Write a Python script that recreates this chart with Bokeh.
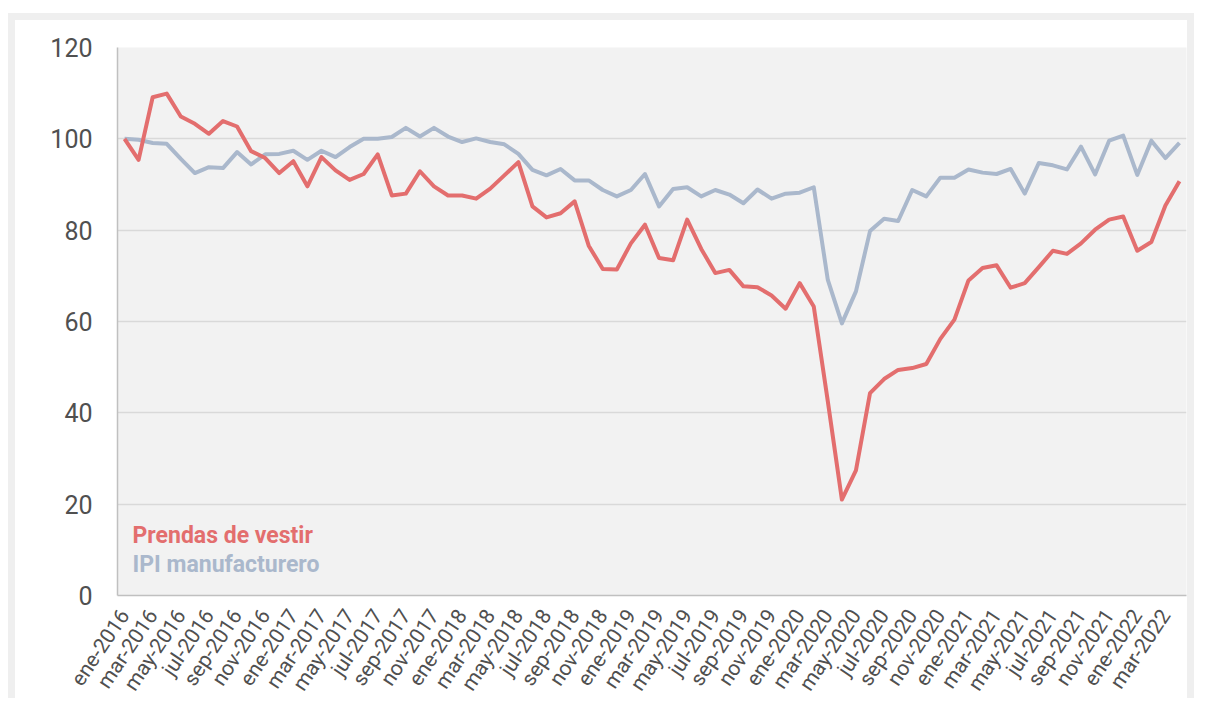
from bokeh.plotting import figure
from bokeh.models import Range1d, FixedTicker, Label
from bokeh.embed import file_html
from bokeh.resources import INLINE

meses = ["ene", "feb", "mar", "abr", "may", "jun", "jul", "ago", "sep", "oct", "nov", "dic"]
anios = [2016, 2017, 2018, 2019, 2020, 2021, 2022]
fechas = [f"{m}-{a}" for a in anios for m in meses][:76]

prendas = [100.0, 95.4, 109.1, 109.9, 104.9, 103.3, 101.1, 103.9, 102.7, 97.3,
           95.8, 92.5, 95.1, 89.6, 96.0, 93.1, 91.0, 92.3, 96.6, 87.6,
           88.0, 92.9, 89.6, 87.6, 87.6, 86.9, 89.1, 92.0, 94.9, 85.2,
           82.8, 83.7, 86.3, 76.6, 71.5, 71.4, 77.1, 81.2, 73.9, 73.4,
           82.3, 75.9, 70.6, 71.3, 67.7, 67.5, 65.7, 62.8, 68.4, 63.3,
           42.5, 21.0, 27.4, 44.3, 47.4, 49.4, 49.8, 50.7, 56.2, 60.4,
           69.0, 71.7, 72.3, 67.4, 68.4, 71.9, 75.5, 74.8, 77.1, 80.1,
           82.3, 83.0, 75.5, 77.4, 85.4, 90.7]

ipi = [100.0, 99.8, 99.1, 98.9, 95.6, 92.5, 93.8, 93.6, 97.1, 94.4,
       96.6, 96.7, 97.4, 95.4, 97.4, 96.0, 98.2, 100.0, 100.0, 100.4,
       102.4, 100.5, 102.4, 100.5, 99.3, 100.1, 99.3, 98.8, 96.7, 93.2,
       92.0, 93.4, 90.9, 90.9, 88.8, 87.4, 88.8, 92.3, 85.2, 89.0,
       89.4, 87.4, 88.8, 87.8, 85.9, 88.9, 86.9, 88.0, 88.2, 89.4,
       69.1, 59.6, 66.6, 79.8, 82.5, 82.0, 88.8, 87.4, 91.5, 91.5,
       93.3, 92.6, 92.3, 93.4, 88.0, 94.7, 94.2, 93.3, 98.3, 92.2,
       99.6, 100.7, 92.1, 99.6, 95.8, 99.1]

series_nombres = ["Prendas de vestir", "IPI manufacturero"]
y_ticks = [0, 20, 40, 60, 80, 100, 120]

ROJO = "#e36e6e"
AZUL = "#aab8cc"
FONT = "Roboto"

idx = list(range(len(fechas)))

p = figure(width=1186, height=685, output_backend="svg", toolbar_location=None,
           x_range=Range1d(-0.5, len(fechas) - 0.5), y_range=Range1d(0, 120))
p.min_border_left = 102
p.min_border_right = 15
p.min_border_top = 27
p.min_border_bottom = 110
p.background_fill_color = "#f2f2f2"
p.border_fill_color = "white"
p.outline_line_color = None
p.styles = {"margin-top": "13px", "margin-left": "8px",
            "border-left": "7px solid #efefef",
            "border-right": "7px solid #efefef",
            "border-top": "7px solid #efefef"}

p.line(idx, ipi, line_color=AZUL, line_width=4, line_join="round")
p.line(idx, prendas, line_color=ROJO, line_width=4, line_join="round")

# grid
p.xgrid.grid_line_color = None
p.ygrid.ticker = FixedTicker(ticks=y_ticks)
p.ygrid.grid_line_color = "#d9d9d9"
p.ygrid.grid_line_width = 1.5

# y axis
p.yaxis.ticker = FixedTicker(ticks=y_ticks)
p.yaxis.axis_line_color = "#c0c0c0"
p.yaxis.axis_line_width = 1.5
p.yaxis.major_tick_line_color = None
p.yaxis.minor_tick_line_color = None
p.yaxis.major_tick_out = 0
p.yaxis.major_label_standoff = 25
p.yaxis.major_label_text_font = FONT
p.yaxis.major_label_text_font_size = "25px"
p.yaxis.major_label_text_color = "#505050"

# x axis
p.xaxis.ticker = FixedTicker(ticks=idx[::2])
p.xaxis.major_label_overrides = {i: fechas[i] for i in idx[::2]}
p.xaxis.axis_line_color = "#c0c0c0"
p.xaxis.axis_line_width = 1.5
p.xaxis.major_tick_line_color = None
p.xaxis.minor_tick_line_color = None
p.xaxis.major_tick_out = 0
p.xaxis.major_label_standoff = 16
p.xaxis.major_label_orientation = 0.98
p.xaxis.major_label_text_font = FONT
p.xaxis.major_label_text_font_size = "21px"
p.xaxis.major_label_text_color = "#505050"

for nombre, color, yy in zip(series_nombres, [ROJO, AZUL], [13.2, 6.85]):
    p.add_layout(Label(x=0.57, y=yy, text=nombre, text_color=color,
                       text_font=FONT, text_font_size="23px",
                       text_font_style="bold", text_baseline="alphabetic"))

open("out.html", "w").write(file_html(p, INLINE))
